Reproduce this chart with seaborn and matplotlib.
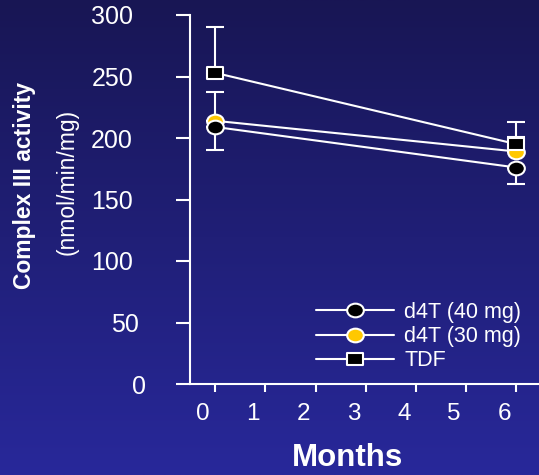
import matplotlib
matplotlib.use("Agg")
import matplotlib.pyplot as plt
import matplotlib.transforms as mtransforms
from matplotlib.path import Path
import numpy as np
import seaborn as sns

# data
months = [0, 6]
d4t_40 = [209, 176]
d4t_40_err_low = [19, 13]
d4t_30 = [214, 189]
d4t_30_err_up = [23, 12]
tdf = [253, 195]
tdf_err_up = [37, 18]
series_labels = ["d4T (40 mg)", "d4T (30 mg)", "TDF"]
x_ticks = [0, 1, 2, 3, 4, 5, 6]
y_ticks = [0, 50, 100, 150, 200, 250, 300]

sns.set_theme(style="white")
plt.rcParams["font.family"] = ["Liberation Sans", "DejaVu Sans"]

W, H = 539, 475
fig = plt.figure(figsize=(W / 100, H / 100), dpi=100)

# blue gradient background
bg = fig.add_axes([0, 0, 1, 1], zorder=-10)
top = np.array([24, 22, 84]) / 255
bot = np.array([40, 40, 154]) / 255
t = np.linspace(0, 1, 256)[:, None]
grad = top + (bot - top) * t
bg.imshow(grad[:, None, :], aspect="auto", extent=[0, 1, 0, 1], origin="upper")
bg.axis("off")

ax = fig.add_axes([190 / W, 1 - 384 / H, 1 - 190 / W, (384 - 15) / H])
ax.set_facecolor("none")

ellipse = Path.unit_circle().transformed(mtransforms.Affine2D().scale(1.0, 0.82))
rect = Path([(-1, -0.75), (1, -0.75), (1, 0.75), (-1, 0.75), (-1, -0.75)],
            [Path.MOVETO, Path.LINETO, Path.LINETO, Path.LINETO, Path.CLOSEPOLY])

zero = [0, 0]
err_kw = dict(fmt="none", ecolor="white", elinewidth=1.5, capsize=6.2, capthick=1.5)
ax.errorbar(months, d4t_30, yerr=[zero, d4t_30_err_up], zorder=2, **err_kw)
ax.errorbar(months, d4t_40, yerr=[d4t_40_err_low, zero], zorder=2, **err_kw)
ax.errorbar(months, tdf, yerr=[zero, tdf_err_up], zorder=2, **err_kw)

line_kw = dict(color="white", linewidth=1.5, markersize=12, markeredgecolor="white",
               markeredgewidth=1.5)
sns.lineplot(x=months, y=d4t_40, ax=ax, marker=ellipse, markerfacecolor="black",
             label=series_labels[0], zorder=4, **line_kw)
sns.lineplot(x=months, y=d4t_30, ax=ax, marker=ellipse, markerfacecolor="#FFC800",
             label=series_labels[1], zorder=3, **line_kw)
sns.lineplot(x=months, y=tdf, ax=ax, marker=rect, markerfacecolor="black",
             label=series_labels[2], zorder=5, **line_kw)

ax.set_xlim(-0.5, 6.45)
ax.set_ylim(0, 300)
ax.set_xticks(x_ticks)
ax.set_yticks(y_ticks)
ax.set_xlabel("")
ax.set_ylabel("")
for s in ["top", "right"]:
    ax.spines[s].set_visible(False)
for s in ["left", "bottom"]:
    ax.spines[s].set_color("white")
    ax.spines[s].set_linewidth(1.5)
ax.tick_params(axis="y", direction="out", length=10, width=1.5, color="white",
               labelcolor="white", labelsize=18, pad=31, left=True)
ax.tick_params(axis="x", direction="out", length=6, width=1.5, color="white",
               labelcolor="white", labelsize=17.5, pad=8, bottom=True)

# the reference labels sit a bit off their ticks
for lab in ax.get_xticklabels():
    lab.set_transform(lab.get_transform() +
                      mtransforms.ScaledTranslation(-12 / 100, 0, fig.dpi_scale_trans))
for lab, v in zip(ax.get_yticklabels(), y_ticks):
    dx = {0: 13, 50: 6}.get(v, 0)
    lab.set_transform(lab.get_transform() +
                      mtransforms.ScaledTranslation(dx / 100, 0, fig.dpi_scale_trans))

leg = ax.legend(loc="upper left", bbox_to_anchor=(316 / W, 1 - 302 / H),
                bbox_transform=fig.transFigure, frameon=False, fontsize=15.5,
                labelcolor="white", handlelength=3.6, handletextpad=0.5,
                labelspacing=0.15, borderpad=0, borderaxespad=0, numpoints=1)

fig.text(25 / W, 1 - 185 / H, "Complex III activity", rotation=90, color="white",
         fontsize=16.5, fontweight="bold", ha="center", va="center")
fig.text(67 / W, 1 - 182 / H, "(nmol/min/mg)", rotation=90, color="white",
         fontsize=16.5, ha="center", va="center")
fig.text(347 / W, 1 - 458 / H, "Months", color="white", fontsize=22.5,
         fontweight="bold", ha="center", va="center")

fig.savefig("out.png", dpi=100)
